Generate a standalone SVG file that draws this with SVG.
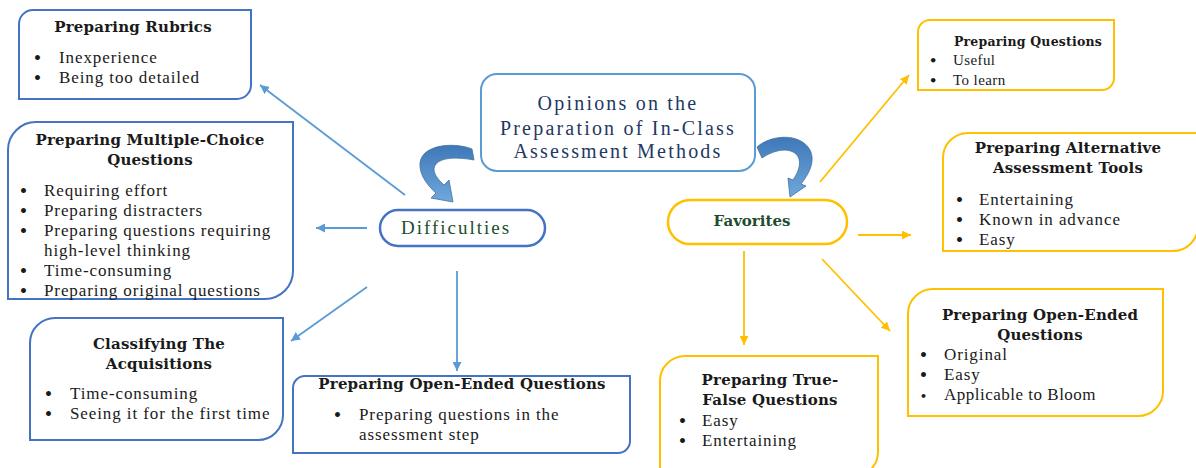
<svg xmlns="http://www.w3.org/2000/svg" width="1196" height="468" viewBox="0 0 1196 468">
<style>
  text { font-family: "DejaVu Serif", "Liberation Serif", serif; fill: #1a1a1a; }
  .t { font-weight: bold; font-size: 15px; text-anchor: middle; letter-spacing: 0.2px; }
  .b { font-family: "Liberation Serif", "Times New Roman", serif; font-size: 17px; letter-spacing: 0.9px; }
  .d { font-family: "DejaVu Sans", sans-serif; font-size: 14px; font-weight: bold; }
  .bl { stroke: #4472C4; stroke-width: 2; fill: #fff; }
  .gd { stroke: #FFC000; stroke-width: 2; fill: #fff; }
  .cb { stroke: #5B9BD5; stroke-width: 1.8; fill: none; }
  .cg { stroke: #FFC000; stroke-width: 1.8; fill: none; }
  .main { font-family: "Liberation Serif", "Times New Roman", serif; font-size: 20px; fill: #1F3864; text-anchor: middle; letter-spacing: 2.2px; }
</style>
<defs>
  <marker id="ab" viewBox="0 0 10 10" refX="10" refY="5" markerWidth="5" markerHeight="5" orient="auto" markerUnits="strokeWidth">
    <path d="M0,0 L10,5 L0,10 Z" fill="#5B9BD5"/>
  </marker>
  <marker id="ag" viewBox="0 0 10 10" refX="10" refY="5" markerWidth="5" markerHeight="5" orient="auto" markerUnits="strokeWidth">
    <path d="M0,0 L10,5 L0,10 Z" fill="#FFC000"/>
  </marker>
  <linearGradient id="bg" x1="0" y1="0" x2="0" y2="1">
    <stop offset="0" stop-color="#3F78B8"/>
    <stop offset="1" stop-color="#6FA8DC"/>
  </linearGradient>
</defs>
<rect width="1196" height="468" fill="#fff"/>

<g id="connectors">
  <line class="cb" x1="405" y1="195" x2="260" y2="85" marker-end="url(#ab)"/>
  <line class="cb" x1="367" y1="228" x2="316" y2="228" marker-end="url(#ab)"/>
  <line class="cb" x1="367" y1="287" x2="291" y2="341" marker-end="url(#ab)"/>
  <line class="cb" x1="457" y1="271" x2="457" y2="371" marker-end="url(#ab)"/>
  <line class="cg" x1="820" y1="182" x2="909" y2="75" marker-end="url(#ag)"/>
  <line class="cg" x1="858" y1="235" x2="911" y2="235" stroke-width="1.4" marker-end="url(#ag)"/>
  <line class="cg" x1="822" y1="259" x2="890" y2="331" stroke-width="1.4" marker-end="url(#ag)"/>
  <line class="cg" x1="744" y1="251" x2="744" y2="345" marker-end="url(#ag)"/>
  <path d="M472,149 C455,142 422,144 420,163 C419,175 428,186 436,193 L431,198 L453,202 L449,180 L444,185 C436,178 431,170 436,164 C442,157 458,157 474,160 Z" fill="url(#bg)" stroke="#41719C" stroke-width="0.8"/>
  <path d="M757,147 C770,135 800,132 810,150 C816,162 808,175 801,184 L806,186 L790,197 L788,178 L793,180 C800,170 802,160 796,154 C788,147 774,150 762,158 Z" fill="url(#bg)" stroke="#41719C" stroke-width="0.8"/>
</g>

<g id="central">
  <rect x="481" y="74" width="274" height="97" rx="16" fill="#fff" stroke="#5B9BD5" stroke-width="2"/>
  <text class="main" x="618" y="110">Opinions on the</text>
  <text class="main" x="618" y="135">Preparation of In-Class</text>
  <text class="main" x="618" y="158">Assessment Methods</text>
</g>

<g id="difficulties">
  <rect x="380" y="210" width="165" height="36" rx="18" fill="#fff" stroke="#4472C4" stroke-width="2.5"/>
  <text x="456" y="234" text-anchor="middle" font-size="19" letter-spacing="2" style="fill:#1E4D2B;font-family:'Liberation Serif',serif">Difficulties</text>
</g>

<g id="favorites">
  <rect x="668" y="200" width="179" height="44" rx="22" fill="#fff" stroke="#FFC000" stroke-width="2.5"/>
  <text x="752" y="226" text-anchor="middle" font-size="15" font-weight="bold" style="fill:#1E4D2B">Favorites</text>
</g>

<g id="rubrics">
  <path class="bl" d="M19,24 A14,14 0 0 1 33,10 H251 V85 A14,14 0 0 1 237,99 H19 Z"/>
  <text class="t" x="133" y="32">Preparing Rubrics</text>
  <text class="d" x="33" y="63">•</text><text class="b" x="59" y="63">Inexperience</text>
  <text class="d" x="33" y="83">•</text><text class="b" x="59" y="83">Being too detailed</text>
</g>

<g id="multiple-choice">
  <path class="bl" d="M8,150 A28,28 0 0 1 36,122 H293 V271 A28,28 0 0 1 265,299 H8 Z"/>
  <text class="t" x="150" y="145">Preparing Multiple-Choice</text>
  <text class="t" x="150" y="165">Questions</text>
  <text class="d" x="19" y="196">•</text><text class="b" x="44" y="196">Requiring effort</text>
  <text class="d" x="19" y="216">•</text><text class="b" x="44" y="216">Preparing distracters</text>
  <text class="d" x="19" y="236">•</text><text class="b" x="44" y="236">Preparing questions requiring</text>
  <text class="b" x="44" y="256">high-level thinking</text>
  <text class="d" x="19" y="276">•</text><text class="b" x="44" y="276">Time-consuming</text>
  <text class="d" x="19" y="296">•</text><text class="b" x="44" y="296">Preparing original questions</text>
</g>

<g id="classifying">
  <path class="bl" d="M30,343 A25,25 0 0 1 55,318 H283 V415 A25,25 0 0 1 258,440 H30 Z"/>
  <text class="t" x="159" y="349">Classifying The</text>
  <text class="t" x="159" y="369">Acquisitions</text>
  <text class="d" x="44" y="399">•</text><text class="b" x="70" y="399">Time-consuming</text>
  <text class="d" x="44" y="419">•</text><text class="b" x="70" y="419">Seeing it for the first time</text>
</g>

<g id="open-ended-left">
  <path class="bl" d="M293,388 A12,12 0 0 1 305,376 H630 V441 A12,12 0 0 1 618,453 H293 Z"/>
  <text class="t" x="462" y="389">Preparing Open-Ended Questions</text>
  <text class="d" x="333" y="420">•</text><text class="b" x="359" y="420">Preparing questions in the</text>
  <text class="b" x="359" y="440">assessment step</text>
</g>

<g id="preparing-questions">
  <path class="gd" d="M918,32 A12,12 0 0 1 930,20 H1114 V78 A12,12 0 0 1 1102,90 H918 Z"/>
  <text class="t" x="1028" y="46" style="font-size:12.5px">Preparing Questions</text>
  <text class="d" x="929" y="65" style="font-size:13px">•</text><text class="b" x="953" y="65" style="font-size:15px;letter-spacing:0.4px">Useful</text>
  <text class="d" x="929" y="85" style="font-size:13px">•</text><text class="b" x="953" y="85" style="font-size:15px;letter-spacing:0.4px">To learn</text>
</g>

<g id="alternative">
  <path class="gd" d="M943,158 A25,25 0 0 1 968,133 H1198 V226 A25,25 0 0 1 1173,251 H943 Z"/>
  <text class="t" x="1068" y="153">Preparing Alternative</text>
  <text class="t" x="1068" y="173">Assessment Tools</text>
  <text class="d" x="955" y="205">•</text><text class="b" x="979" y="205">Entertaining</text>
  <text class="d" x="955" y="225">•</text><text class="b" x="979" y="225">Known in advance</text>
  <text class="d" x="955" y="245">•</text><text class="b" x="979" y="245">Easy</text>
</g>

<g id="open-ended-right">
  <path class="gd" d="M908,314 A25,25 0 0 1 933,289 H1163 V391 A25,25 0 0 1 1138,416 H908 Z"/>
  <text class="t" x="1040" y="320">Preparing Open-Ended</text>
  <text class="t" x="1040" y="340">Questions</text>
  <text class="d" x="919" y="360">•</text><text class="b" x="944" y="360">Original</text>
  <text class="d" x="919" y="380">•</text><text class="b" x="944" y="380">Easy</text>
  <text class="d" x="920" y="400" style="font-size:11px">•</text><text class="b" x="944" y="400" style="letter-spacing:0.5px">Applicable to Bloom</text>
</g>

<g id="true-false">
  <path class="gd" d="M660,381 A25,25 0 0 1 685,356 H878 V452 A25,25 0 0 1 853,477 H660 Z"/>
  <text class="t" x="770" y="385">Preparing True-</text>
  <text class="t" x="770" y="405">False Questions</text>
  <text class="d" x="678" y="426">•</text><text class="b" x="702" y="426">Easy</text>
  <text class="d" x="678" y="446">•</text><text class="b" x="702" y="446">Entertaining</text>
</g>
</svg>
